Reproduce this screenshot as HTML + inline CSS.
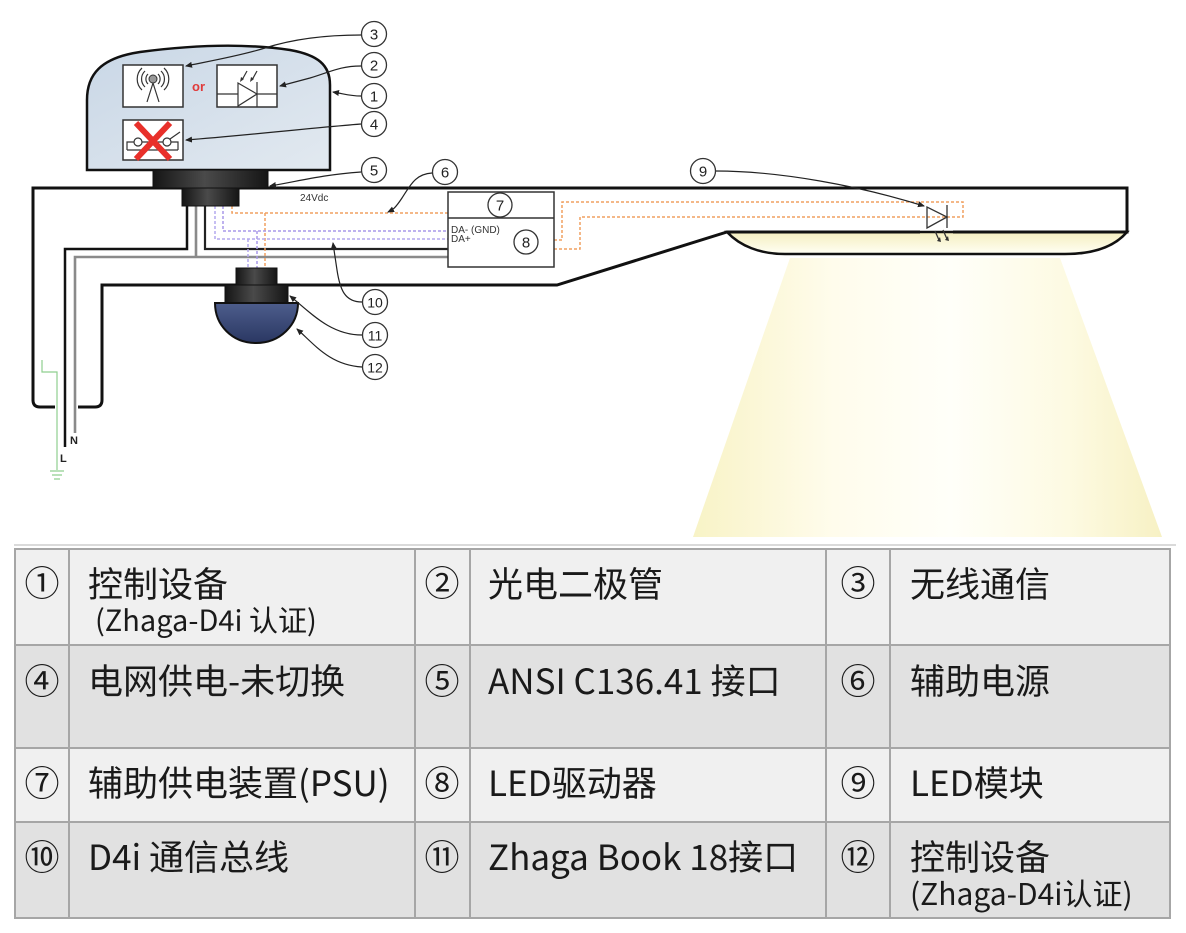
<!DOCTYPE html>
<html><head><meta charset="utf-8">
<style>
html,body{margin:0;padding:0;background:#fff;}
body{width:1186px;height:933px;overflow:hidden;position:relative;}
svg{position:absolute;left:0;top:0;}
.lbl{font-family:"Liberation Sans",sans-serif;}
.cjk{font-family:"Noto Sans CJK SC","Liberation Sans",sans-serif;}
</style></head>
<body>
<svg width="1186" height="933" viewBox="0 0 1186 933" xmlns="http://www.w3.org/2000/svg">
<defs>
<linearGradient id="dome" x1="0" y1="0" x2="1" y2="1">
<stop offset="0" stop-color="#c9d7e6"/><stop offset="1" stop-color="#e2e9f0"/>
</linearGradient>
<linearGradient id="blk" x1="0" y1="0" x2="1" y2="0">
<stop offset="0" stop-color="#151515"/><stop offset="0.45" stop-color="#4a4a4a"/><stop offset="1" stop-color="#151515"/>
</linearGradient>
<linearGradient id="blue" x1="0" y1="0" x2="0" y2="1">
<stop offset="0" stop-color="#4d5d8c"/><stop offset="1" stop-color="#2a3762"/>
</linearGradient>
<linearGradient id="cone" x1="0" y1="0" x2="1" y2="0">
<stop offset="0" stop-color="#f8f3c6"/><stop offset="0.3" stop-color="#fffcec"/><stop offset="0.55" stop-color="#fffff9"/><stop offset="0.8" stop-color="#fdfae2"/><stop offset="1" stop-color="#f7f1c4"/>
</linearGradient>
<linearGradient id="lens" x1="0" y1="0" x2="0" y2="1">
<stop offset="0" stop-color="#f4eebf"/><stop offset="1" stop-color="#fffff4"/>
</linearGradient>
<marker id="ar" markerWidth="8" markerHeight="8" refX="6" refY="4" orient="auto" markerUnits="userSpaceOnUse">
<path d="M0,1 L7,4 L0,7 Z" fill="#222"/>
</marker>
</defs>

<!-- light cone -->
<polygon points="790,258 1060,258 1162,537 693,537" fill="url(#cone)"/>

<!-- lens -->
<path d="M727,232 C740,246 760,254 785,254 H1065 C1095,254 1115,246 1127,232 Z" fill="url(#lens)" stroke="#111" stroke-width="2.5"/>

<!-- luminaire body -->
<g fill="none" stroke="#111" stroke-width="3">
<path d="M33,401 V188 H1127 V232 H953"/>
<path d="M920,232 H727 L557,285 H102 V400 Q102,407 95,407 H78"/>
<path d="M33,400 Q33,407 40,407 H55"/>
</g>

<!-- ground -->
<path d="M42,360 V372 H57 V470 M50,471 H64 M52,475 H62 M54,479 H60" fill="none" stroke="#8fcf8f" stroke-width="1.2"/>

<!-- wires -->
<path d="M65,447 V249 H187 V206" fill="none" stroke="#111" stroke-width="2.5"/>
<path d="M205,206 V249 H448" fill="none" stroke="#222" stroke-width="2.2"/>
<path d="M75,433 V257 H448 M196,206 V257" fill="none" stroke="#8a8a8a" stroke-width="2.6"/>
<text x="70" y="444" class="lbl" font-size="11" font-weight="bold" fill="#222">N</text>
<text x="60" y="462" class="lbl" font-size="11" font-weight="bold" fill="#222">L</text>

<!-- dashed lines -->
<g fill="none" stroke-dasharray="3,2" stroke-width="1.5">
<path d="M232,206 V213 H448 M265,213 V268" stroke="#f0a060"/>
<path d="M554,240 H562 V202 H963 V217 H580 V249 H554" stroke="#f0a060"/>
<path d="M223,206 V231 H448 M257,231 V268" stroke="#a898e8"/>
<path d="M215,206 V239 H448 M248,239 V268" stroke="#b4a8ee"/>
</g>
<text x="300" y="201" class="lbl" font-size="10" fill="#333">24Vdc</text>

<!-- controller dome -->
<path d="M87,170 L87,100 C87,75 100,58 140,52 C200,44 250,44 290,50 C318,55 330,65 330,85 L330,170 Z" fill="url(#dome)" stroke="#111" stroke-width="2.5"/>
<!-- wireless box -->
<rect x="123" y="65" width="60" height="42" fill="#fff" stroke="#333" stroke-width="1.5"/>
<circle cx="153" cy="79" r="4" fill="#999" stroke="#333" stroke-width="1"/>
<g fill="none" stroke="#333" stroke-width="1.2">
<path d="M148,74 A7,7 0 0 0 148,84 M145,71 A11,11 0 0 0 145,87 M142,68 A15,15 0 0 0 142,90"/>
<path d="M158,74 A7,7 0 0 1 158,84 M161,71 A11,11 0 0 1 161,87 M164,68 A15,15 0 0 1 164,90"/>
<path d="M153,83 L147,102 M153,83 L159,102"/>
</g>
<text x="192" y="91" class="lbl" font-size="13" font-weight="bold" fill="#e03a3a">or</text>
<!-- photodiode box -->
<rect x="217" y="65" width="60" height="42" fill="#fff" stroke="#333" stroke-width="1.5"/>
<g fill="none" stroke="#333" stroke-width="1.2">
<path d="M217,94 H238 M257,94 H277"/>
<path d="M238,83 L238,106 L257,94 Z"/>
<path d="M257,82 V107"/>
<path d="M247,71 L242,80 M257,71 L252,80"/>
</g>
<path d="M240,82 L241,77 L244,79 Z M250,82 L251,77 L254,79 Z" fill="#333"/>
<!-- switch box -->
<rect x="123" y="120" width="60" height="40" fill="#fff" stroke="#333" stroke-width="1.5"/>
<g fill="none" stroke="#333" stroke-width="1.2">
<path d="M127,150 V142 H134 M142,142 H163 M171,142 H178 V150 M127,150 H178"/>
<circle cx="138" cy="142" r="4"/>
<circle cx="167" cy="142" r="4"/>
<path d="M170,139 L180,132"/>
</g>
<path d="M136,123 L170,159 M170,123 L136,159" stroke="#e8302a" stroke-width="6"/>

<!-- connector 5 -->
<rect x="153" y="170" width="115" height="18" fill="url(#blk)" stroke="#111" stroke-width="1"/>
<rect x="182" y="188" width="57" height="18" fill="url(#blk)" stroke="#111" stroke-width="1"/>

<!-- connector 11 / 12 -->
<rect x="236" y="268" width="41" height="17" fill="url(#blk)" stroke="#111" stroke-width="1"/>
<rect x="225" y="285" width="63" height="18" fill="url(#blk)" stroke="#111" stroke-width="1"/>
<path d="M215,303 H298 C298,325 280,343 256,343 C232,343 215,325 215,303 Z" fill="url(#blue)" stroke="#111" stroke-width="2"/>

<!-- driver box -->
<rect x="448" y="192" width="106" height="75" fill="#fff" stroke="#333" stroke-width="1.5"/>
<line x1="448" y1="218" x2="554" y2="218" stroke="#333" stroke-width="1.5"/>
<text x="451" y="233" class="lbl" font-size="10" fill="#333">DA- (GND)</text>
<text x="451" y="242" class="lbl" font-size="10" fill="#333">DA+</text>

<!-- LED -->
<g fill="none" stroke="#333" stroke-width="1.3">
<path d="M927,207 L927,228 L947,217 Z"/>
<path d="M947,205 V228"/>
<path d="M935,231 L939,240 M943,230 L947,239"/>
</g>
<path d="M937,241 L941,242 L940,237 Z M945,240 L949,241 L948,236 Z" fill="#333"/>

<!-- leader lines -->
<g fill="none" stroke="#222" stroke-width="1.2" marker-end="url(#ar)">
<path d="M361,35 C320,35 290,40 265,48 S205,62 186,66"/>
<path d="M361,66 C340,66 330,72 310,78 L280,86"/>
<path d="M361,96 C350,96 345,94 333,92"/>
<path d="M361,124 C300,129 240,136 186,140"/>
<path d="M361,172 C320,175 300,181 270,186"/>
<path d="M432,173 C415,174 410,186 402,198 S392,210 388,212"/>
<path d="M716,171 C780,171 860,186 924,206"/>
<path d="M362,302 C345,302 340,290 337,270 S334,250 333,243"/>
<path d="M362,335 C330,335 310,312 290,296"/>
<path d="M362,367 C330,365 315,345 297,329"/>
</g>

<!-- callout circles -->
<g fill="#fff" stroke="#333" stroke-width="1.3">
<circle cx="374" cy="34" r="12.5"/><circle cx="374" cy="65" r="12.5"/><circle cx="374" cy="96" r="12.5"/>
<circle cx="374" cy="124" r="12.5"/><circle cx="374" cy="170" r="12.5"/><circle cx="445" cy="172" r="12.5"/>
<circle cx="500" cy="205" r="12"/><circle cx="526" cy="242" r="12"/><circle cx="703" cy="171" r="12.5"/>
<circle cx="375" cy="302" r="12.5"/><circle cx="375" cy="335" r="12.5"/><circle cx="375" cy="367" r="12.5"/>
</g>
<g class="lbl" font-size="15" fill="#222" text-anchor="middle">
<text x="374" y="39.5">3</text><text x="374" y="70.5">2</text><text x="374" y="101.5">1</text>
<text x="374" y="129.5">4</text><text x="374" y="175.5">5</text><text x="445" y="177.5">6</text>
<text x="500" y="210.5">7</text><text x="526" y="247.5">8</text><text x="703" y="176.5">9</text>
<text x="375" y="307.5" font-size="14">10</text><text x="375" y="340.5" font-size="14">11</text><text x="375" y="372.5" font-size="14">12</text>
</g>

<!-- table -->
<line x1="14" y1="545" x2="1176" y2="545" stroke="#c4c4c4" stroke-width="1.2"/>
<rect x="15" y="549" width="1155" height="96" fill="#f0f0f0"/>
<rect x="15" y="645" width="1155" height="103" fill="#e1e1e1"/>
<rect x="15" y="748" width="1155" height="74" fill="#f0f0f0"/>
<rect x="15" y="822" width="1155" height="96" fill="#e1e1e1"/>
<g stroke="#a6a6a6" stroke-width="2" fill="none">
<rect x="15" y="549" width="1155" height="369"/>
<path d="M15,645 H1170 M15,748 H1170 M15,822 H1170"/>
<path d="M69,549 V918 M415,549 V918 M470,549 V918 M826,549 V918 M890,549 V918"/>
</g>
<g class="cjk" fill="#1a1a1a">
<g font-size="35" text-anchor="middle">
<text x="42" y="596">①</text><text x="442" y="596">②</text><text x="858" y="596">③</text>
<text x="42" y="694">④</text><text x="442" y="694">⑤</text><text x="858" y="694">⑥</text>
<text x="42" y="796">⑦</text><text x="442" y="796">⑧</text><text x="858" y="796">⑨</text>
<text x="42" y="870">⑩</text><text x="442" y="870">⑪</text><text x="858" y="870">⑫</text>
</g>
<g font-size="35">
<text x="88" y="597">控制设备</text>
<text x="488" y="597">光电二极管</text>
<text x="910" y="597">无线通信</text>
<text x="88" y="694">电网供电-未切换</text>
<text x="488" y="694">ANSI C136.41 接口</text>
<text x="910" y="694">辅助电源</text>
<text x="88" y="796">辅助供电装置(PSU)</text>
<text x="488" y="796">LED驱动器</text>
<text x="910" y="796">LED模块</text>
<text x="88" y="870">D4i 通信总线</text>
<text x="488" y="870">Zhaga Book 18接口</text>
<text x="910" y="870">控制设备</text>
</g>
<text x="95" y="631" font-size="29">(Zhaga-D4i 认证)</text>
<text x="910" y="905" font-size="30">(Zhaga-D4i认证)</text>
</g>
</svg>
</body></html>
